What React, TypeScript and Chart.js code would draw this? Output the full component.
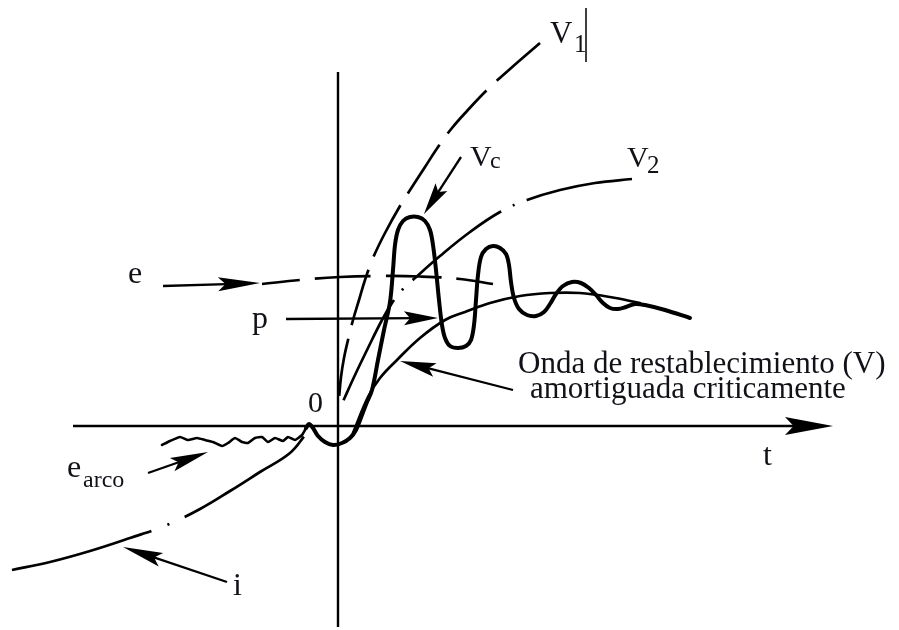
import React, { useEffect, useRef } from "react";
import { Chart, registerables } from "chart.js";

Chart.register(...registerables);

// ---- data (t = time axis, v = value axis; origin at the intersection of the axes) ----
const V1_T = [1, 3, 6, 10, 15, 21, 27, 35, 47, 62, 74, 87, 100, 114, 129, 149, 172, 202];
const V1_V = [28, 49, 68, 86, 106, 126, 146, 168, 193, 220, 239, 259, 279, 298, 315, 336, 357, 383];

const V2_T = [4, 7, 17, 30, 44, 54, 64, 77, 102, 132, 162, 189, 222, 257, 294];
const V2_V = [22, 29, 51, 78, 106, 123, 136, 148, 170, 194, 214, 226, 236, 243, 247];

const E_T = [-76, -38, 2, 42, 82, 122, 155];
const E_V = [142, 146, 149, 150, 149.5, 147, 142];

const I_T = [-326, -288, -248, -208, -171, -138, -108, -78, -48, -32];
const I_V = [-144, -136, -125, -112, -99, -83, -65, -46, -27, -8];

const EARCO_T = [-176, -168, -158, -150, -141, -133, -125, -116, -110, -103, -96, -90, -83, -76, -70, -63, -55, -50, -43, -36, -33, -32];
const EARCO_V = [-19, -15, -11, -14, -12, -14, -16, -20, -17, -12, -16, -17, -12, -11, -16, -12, -15, -11, -14, -9, -4, -2];

const VC_T = [-32, -29, -25, -20, -13, -5, 4, 12, 18, 24, 29, 34, 40, 46, 52, 55, 57, 60, 65, 72, 80, 87, 92, 95, 98, 101, 104, 107, 112, 120, 128, 133, 136, 138, 140, 143, 148, 155, 162, 168, 171, 173, 176, 181, 189, 198, 206, 212, 218, 225, 234, 243, 251, 258, 265, 272, 280, 288, 297, 307, 327, 352];
const VC_V = [-2, 2, -2, -10, -16, -19, -17, -12, -4, 11, 24, 36, 66, 96, 124, 156, 181, 196, 205, 209, 209, 205, 196, 181, 156, 126, 101, 88, 80, 78, 80, 86, 101, 126, 151, 169, 177, 180, 178, 172, 161, 144, 128, 117, 111, 110, 114, 122, 132, 140, 144, 143, 138, 131, 123, 118, 117, 119, 122, 121, 116, 108];

const CRIT_T = [15, 30, 42, 59, 82, 107, 127, 152, 182, 212, 242, 272, 302];
const CRIT_V = [-7, 29, 48, 66, 88, 106, 114, 123, 130, 133, 133, 129, 123];

const CURSOR_T = [248, 248];
const CURSOR_V = [418, 364];

// axes
const AXIS_T_FROM = [-265, 0];
const AXIS_V_FROM = [0, -201];
const AXIS_T_TO = [495, 0];
const AXIS_V_TO = [0, 354];

// annotation arrows
const ARROW_FROM_T = [-175, -52, 123, 175, -190, -111];
const ARROW_FROM_V = [140, 107, 269, 36, -47, -156];
const ARROW_TO_T = [-78, 100, 86, 62, -130, -215];
const ARROW_TO_V = [143, 108, 212, 65, -26, -121];

// labels
const LABEL_TEXT = ["V", "1", "V", "c", "V", "2", "e", "p", "0", "e", "arco", "i", "t", "Onda de restablecimiento (V)", "amortiguada criticamente"];
const LABEL_T = [212, 236, 132, 152, 289, 309, -210, -86, -30, -271, -255, -105, 425, 180, 192];
const LABEL_V = [383, 374, 260, 258, 259, 253, 143, 98, 14, -51, -61, -169, -39, 53, 28];

// ---- styles ----
const LABEL_SIZE = [31, 25, 30, 24, 30, 25, 32, 32, 30, 32, 24, 32, 32, 31, 31];
const ARROW_HEAD_LEN = [42, 34, 32, 36, 38, 40];
const INK = "#000";
const TEXT_INK = "#111118";
const FONT = '"Liberation Serif", "Times New Roman", serif';

function pts(ts: number[], vs: number[]) {
  return ts.map((t, i) => ({ x: t, y: vs[i] }));
}

function drawArrow(ctx: CanvasRenderingContext2D, x1: number, y1: number, x2: number, y2: number, len: number, half: number, lw: number) {
  const a = Math.atan2(y2 - y1, x2 - x1);
  const c = Math.cos(a), s = Math.sin(a);
  ctx.lineWidth = lw;
  ctx.beginPath();
  ctx.moveTo(x1, y1);
  ctx.lineTo(x2 - c * len * 0.6, y2 - s * len * 0.6);
  ctx.stroke();
  const bx = x2 - c * len, by = y2 - s * len;
  const nx = x2 - c * len * 0.82, ny = y2 - s * len * 0.82;
  ctx.beginPath();
  ctx.moveTo(x2, y2);
  ctx.lineTo(bx - s * half, by + c * half);
  ctx.lineTo(nx, ny);
  ctx.lineTo(bx + s * half, by - c * half);
  ctx.closePath();
  ctx.fill();
}

const decorPlugin = {
  id: "decor",
  afterDatasetsDraw(chart: any) {
    const { ctx } = chart;
    const xs = chart.scales.x, ys = chart.scales.y;
    ctx.save();
    ctx.strokeStyle = INK;
    ctx.fillStyle = INK;
    ctx.lineCap = "butt";
    // horizontal axis with arrow
    drawArrow(ctx, xs.getPixelForValue(AXIS_T_FROM[0]), ys.getPixelForValue(AXIS_V_FROM[0]), xs.getPixelForValue(AXIS_T_TO[0]), ys.getPixelForValue(AXIS_V_TO[0]), 48, 9, 2.6);
    // vertical axis
    ctx.lineWidth = 2.4;
    ctx.beginPath();
    ctx.moveTo(xs.getPixelForValue(AXIS_T_FROM[1]), ys.getPixelForValue(AXIS_V_FROM[1]));
    ctx.lineTo(xs.getPixelForValue(AXIS_T_TO[1]), ys.getPixelForValue(AXIS_V_TO[1]));
    ctx.stroke();
    // annotation arrows
    for (let i = 0; i < ARROW_FROM_T.length; i++) {
      drawArrow(
        ctx,
        xs.getPixelForValue(ARROW_FROM_T[i]), ys.getPixelForValue(ARROW_FROM_V[i]),
        xs.getPixelForValue(ARROW_TO_T[i]), ys.getPixelForValue(ARROW_TO_V[i]),
        ARROW_HEAD_LEN[i], 7, 2.3
      );
    }
    // labels
    ctx.fillStyle = TEXT_INK;
    ctx.textBaseline = "alphabetic";
    ctx.textAlign = "left";
    for (let i = 0; i < LABEL_TEXT.length; i++) {
      ctx.font = `${LABEL_SIZE[i]}px ${FONT}`;
      ctx.fillText(LABEL_TEXT[i], xs.getPixelForValue(LABEL_T[i]), ys.getPixelForValue(LABEL_V[i]));
    }
    ctx.restore();
  },
};

export default function App() {
  const ref = useRef<HTMLCanvasElement | null>(null);
  useEffect(() => {
    if (!ref.current) return;
    const base = { showLine: true, pointRadius: 0, pointHoverRadius: 0, borderColor: INK, fill: false };
    const chart = new Chart(ref.current, {
      type: "scatter",
      data: {
        datasets: [
          { ...base, data: pts(V1_T, V1_V), borderWidth: 2.7, borderDash: [58, 14], borderDashOffset: 70, tension: 0.4, borderCapStyle: "butt" },
          { ...base, data: pts(V2_T, V2_V), borderWidth: 2.7, borderDash: [112, 13, 2, 13], borderDashOffset: 136, tension: 0.4, borderCapStyle: "butt" },
          { ...base, data: pts(E_T, E_V), borderWidth: 2.7, borderDash: [56, 15], borderDashOffset: 18, tension: 0.4, borderCapStyle: "butt" },
          { ...base, data: pts(I_T, I_V), borderWidth: 2.7, borderDash: [145, 17, 2, 17], borderDashOffset: 0, tension: 0.4, borderCapStyle: "butt" },
          { ...base, data: pts(EARCO_T, EARCO_V), borderWidth: 2.6, tension: 0.15, borderCapStyle: "round", borderJoinStyle: "round" },
          { ...base, data: pts(CRIT_T, CRIT_V), borderWidth: 2.7, tension: 0.4, borderCapStyle: "round" },
          { ...base, data: pts(VC_T, VC_V), borderWidth: 4, tension: 0.35, borderCapStyle: "round", borderJoinStyle: "round" },
          { ...base, data: pts(CURSOR_T, CURSOR_V), borderWidth: 1.5, tension: 0 },
        ] as any,
      },
      options: {
        animation: false,
        responsive: false,
        maintainAspectRatio: false,
        events: [],
        layout: { padding: 0 },
        plugins: { legend: { display: false }, tooltip: { enabled: false } },
        scales: {
          x: { type: "linear", min: -338, max: 561, display: false },
          y: { type: "linear", min: -204, max: 426, display: false },
        },
      },
      plugins: [decorPlugin],
    });
    return () => chart.destroy();
  }, []);
  return (
    <div style={{ position: "fixed", left: 0, top: 0, width: 899, height: 630, background: "#fff" }}>
      <canvas ref={ref} width={899} height={630} style={{ width: 899, height: 630, display: "block" }} />
    </div>
  );
}
